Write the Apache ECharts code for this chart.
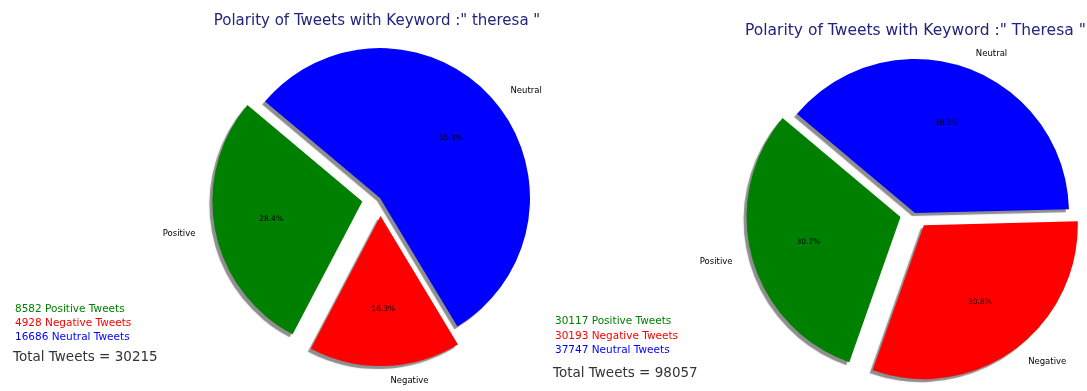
<!DOCTYPE html>
<html>
<head>
<meta charset="utf-8">
<script src="https://cdn.jsdelivr.net/npm/echarts@6/dist/echarts.min.js"></script>
<style>
  html, body { margin: 0; padding: 0; background: #ffffff; }
  #chart { width: 1087px; height: 391px; }
</style>
</head>
<body>
<div id="chart"></div>
<script>
// Sentiment counts for the two keyword searches
const categories = ['Positive', 'Negative', 'Neutral'];
const theresaCounts = [8582, 4928, 16686];
const theresaCapCounts = [30117, 30193, 37747];
const totals = [30215, 98057];
const keywords = ['theresa', 'Theresa'];
const sliceColors = ['#008000', '#ff0000', '#0000ff'];
const explodeFlags = [true, true, false];

const chart = echarts.init(document.getElementById('chart'), null, { renderer: 'canvas' });

function pieItems(counts, withStyle) {
  return categories.map((name, i) => ({
    name: name,
    value: counts[i],
    selected: explodeFlags[i],
    itemStyle: withStyle ? { color: sliceColors[i] } : { color: 'rgba(0,0,0,0)' }
  }));
}

// Coloured wedges with their names outside
function wedgeSeries(counts, center, radius, offset) {
  return {
    type: 'pie',
    center: center,
    radius: radius,
    startAngle: 140,
    clockwise: false,
    selectedMode: 'multiple',
    selectedOffset: offset,
    avoidLabelOverlap: false,
    animation: false,
    emphasis: { disabled: true },
    itemStyle: {
      borderWidth: 0,
      shadowColor: 'rgba(50,50,50,0.55)',
      shadowOffsetX: -3,
      shadowOffsetY: 3,
      shadowBlur: 1
    },
    label: {
      show: true,
      position: 'outside',
      formatter: '{b}',
      color: '#000',
      fontSize: 8.5,
      fontFamily: 'DejaVu Sans'
    },
    labelLine: { show: false, length: 15, length2: 0 },
    data: pieItems(counts, true)
  };
}

// Transparent overlay carrying the percentage text
function percentSeries(counts, center, radius, offset) {
  return {
    type: 'pie',
    center: center,
    radius: [radius * 0.2, radius],
    startAngle: 140,
    clockwise: false,
    selectedMode: 'multiple',
    selectedOffset: offset,
    percentPrecision: 1,
    silent: true,
    animation: false,
    emphasis: { disabled: true },
    itemStyle: { borderWidth: 0 },
    label: {
      show: true,
      position: 'inside',
      formatter: '{d}%',
      color: '#000',
      fontSize: 7.5,
      fontFamily: 'DejaVu Sans'
    },
    labelLine: { show: false },
    data: pieItems(counts, false)
  };
}

function countLines(counts, total, x, y, gap, totalGap) {
  const items = categories.map((name, i) => ({
    type: 'text',
    left: x,
    top: y + i * gap,
    style: {
      text: counts[i] + ' ' + name + ' Tweets',
      fill: sliceColors[i],
      font: '10.5px "DejaVu Sans"'
    }
  }));
  items.push({
    type: 'text',
    left: x - 2,
    top: y + 2 * gap + totalGap,
    style: {
      text: 'Total Tweets = ' + total,
      fill: '#333333',
      font: '13.5px "DejaVu Sans"'
    }
  });
  return items;
}

const option = {
  backgroundColor: '#ffffff',
  title: [
    {
      text: 'Polarity of Tweets with Keyword :" ' + keywords[0] + ' "',
      left: 372,
      top: 9,
      textAlign: 'center',
      textStyle: { color: '#23237d', fontSize: 15, fontWeight: 'normal', fontFamily: 'DejaVu Sans' }
    },
    {
      text: 'Polarity of Tweets with Keyword :" ' + keywords[1] + ' "',
      left: 740,
      top: 18,
      textStyle: { color: '#23237d', fontSize: 15.5, fontWeight: 'normal', fontFamily: 'DejaVu Sans' }
    }
  ],
  series: [
    wedgeSeries(theresaCounts, [380, 198], 150, 18),
    percentSeries(theresaCounts, [380, 198], 150, 18),
    wedgeSeries(theresaCapCounts, [915, 213], 154, 15),
    percentSeries(theresaCapCounts, [915, 213], 154, 15)
  ],
  graphic: [
    ...countLines(theresaCounts, totals[0], 15, 304, 14, 18),
    ...countLines(theresaCapCounts, totals[1], 555, 316, 14.5, 21)
  ]
};

chart.setOption(option);
</script>
</body>
</html>
